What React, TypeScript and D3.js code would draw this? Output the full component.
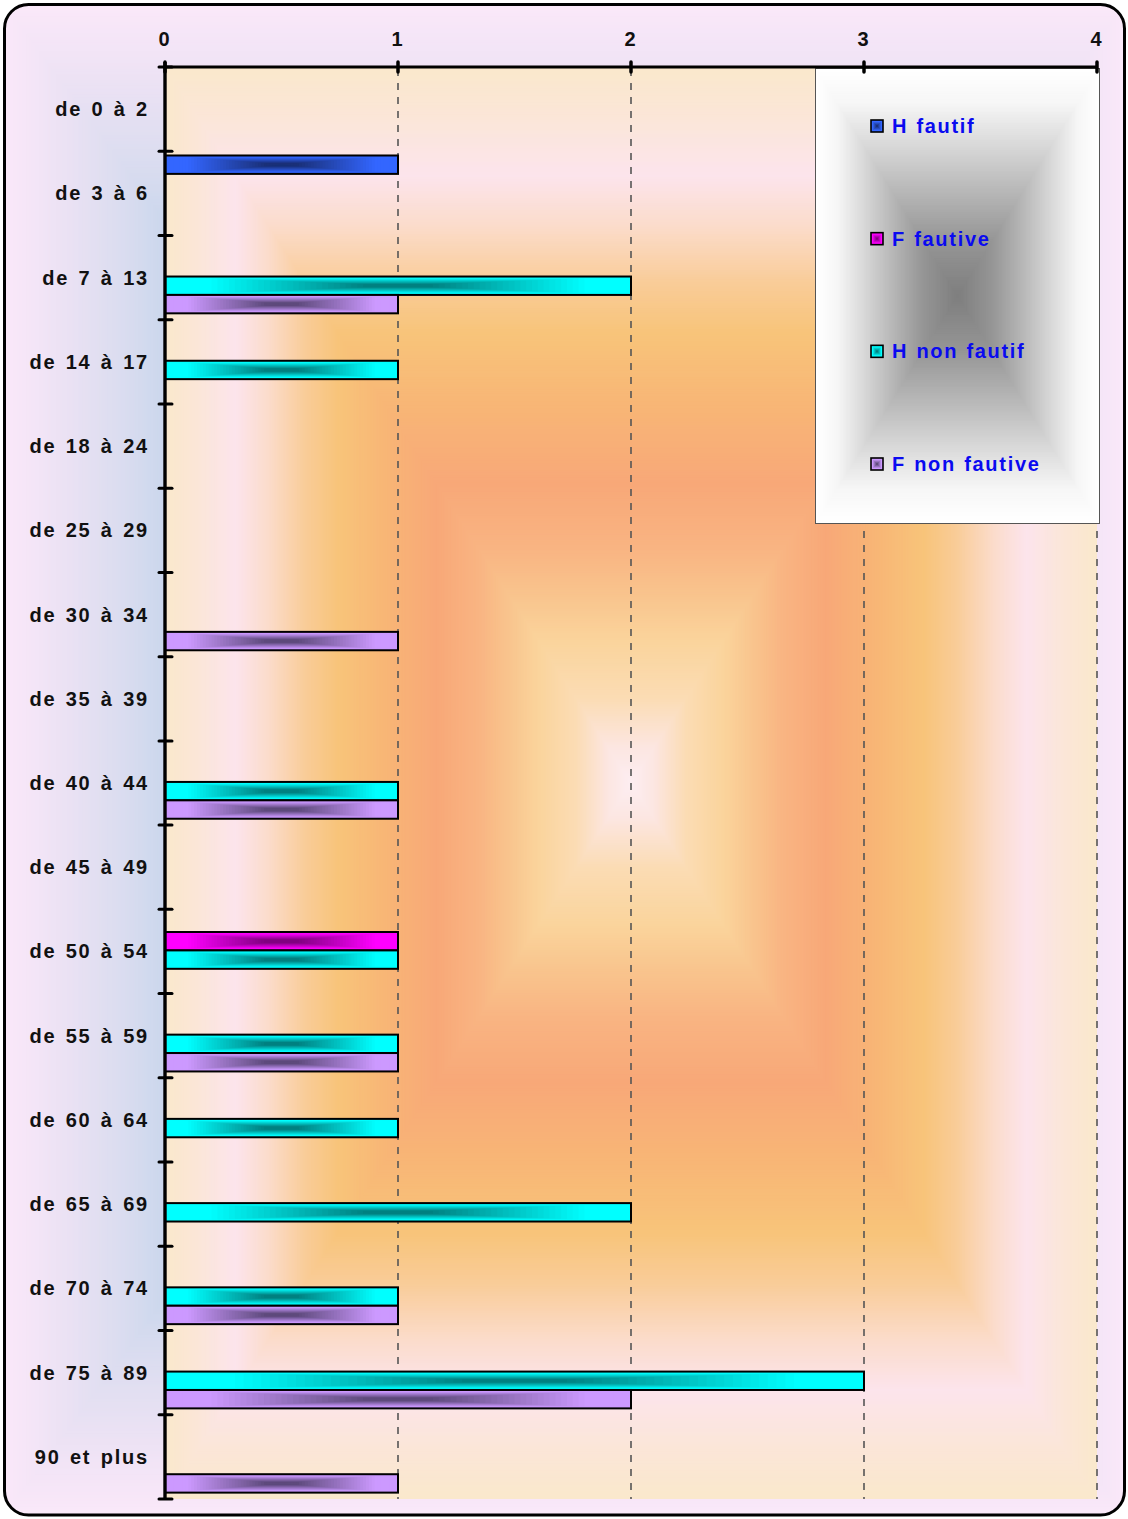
import React from "react";
import * as d3 from "d3";

const categories = [
  "de 0 à 2", "de 3 à 6", "de 7 à 13", "de 14 à 17", "de 18 à 24", "de 25 à 29",
  "de 30 à 34", "de 35 à 39", "de 40 à 44", "de 45 à 49", "de 50 à 54", "de 55 à 59",
  "de 60 à 64", "de 65 à 69", "de 70 à 74", "de 75 à 89", "90 et plus",
];
const seriesNames = ["H fautif", "F fautive", "H non fautif", "F non fautive"];
const hFautif = [0, 1, 0, 0, 0, 0, 0, 0, 0, 0, 0, 0, 0, 0, 0, 0, 0];
const fFautive = [0, 0, 0, 0, 0, 0, 0, 0, 0, 0, 1, 0, 0, 0, 0, 0, 0];
const hNonFautif = [0, 0, 2, 1, 0, 0, 0, 0, 1, 0, 1, 1, 1, 2, 1, 3, 0];
const fNonFautive = [0, 0, 1, 0, 0, 0, 1, 0, 1, 0, 0, 1, 0, 0, 1, 2, 1];
const xTicks = [0, 1, 2, 3, 4];

const seriesValues = [hFautif, fFautive, hNonFautif, fNonFautive];
const seriesEdge = ["#3366FF", "#FF00FF", "#00FFFF", "#CC99FF"];
const seriesCore = ["#1A3078", "#800080", "#008080", "#5E4A7C"];

const W = 1128;
const H = 1519;
const FONT = "'Liberation Sans', Arial, Helvetica, sans-serif";

type R = { x: number; y: number; w: number; h: number; c: string };

function rectGradient(
  x: number, y: number, w: number, h: number,
  color: (t: number) => string, steps: number
): R[] {
  const cx = x + w / 2;
  const cy = y + h / 2;
  const out: R[] = [];
  for (let i = 0; i < steps; i++) {
    const t = 1 - i / steps;
    out.push({ x: cx - (t * w) / 2, y: cy - (t * h) / 2, w: t * w, h: t * h, c: color(t) });
  }
  return out;
}

const chartBg = d3.scaleLinear<string>()
  .domain([0, 0.7, 0.8, 0.9, 0.95, 1])
  .range(["#BCCEE8", "#C8D6EC", "#DCDDF0", "#ECE2F4", "#F4E5F7", "#FAE8F9"])
  .interpolate(d3.interpolateRgb).clamp(true);

const plotBg = d3.scaleLinear<string>()
  .domain([0, 0.05, 0.12, 0.2, 0.26, 0.33, 0.42, 0.53, 0.63, 0.7, 0.78, 0.85, 0.93, 1])
  .range(["#FDEEF2", "#FCE6E2", "#FBDCB4", "#FAD49C", "#F9C58E", "#F9B482", "#F8A878",
    "#F8B676", "#F8C47A", "#F9CC98", "#FBDCCB", "#FCE4EC", "#FBE6D8", "#FAE8CC"])
  .interpolate(d3.interpolateRgb).clamp(true);

const legendBg = d3.scaleLinear<string>()
  .domain([0, 0.25, 0.5, 0.7, 0.85, 1])
  .range(["#7E7E7E", "#969696", "#BDBDBD", "#DEDEDE", "#F6F6F6", "#FFFFFF"])
  .interpolate(d3.interpolateRgb).clamp(true);

function barColor(s: number) {
  return d3.scaleLinear<string>()
    .domain([0, 0.15, 0.82, 1])
    .range([seriesCore[s], seriesCore[s], seriesEdge[s], seriesEdge[s]])
    .interpolate(d3.interpolateRgb).clamp(true);
}

export default function App() {
  const x = d3.scaleLinear().domain([0, 4]).range([165, 1097]);
  const y = d3.scaleBand<string>().domain(categories).range([67, 1499]).paddingInner(0).paddingOuter(0);
  const ys = d3.scaleBand<string>().domain(seriesNames).range([0, y.bandwidth()])
    .paddingInner(0).paddingOuter(0.289).align(0.4);
  const legendY = d3.scalePoint<string>().domain(seriesNames).range([126, 464]);

  const frame = { x: 4.5, y: 4.5, w: 1120, h: 1510.5 };
  const chartRects = rectGradient(frame.x, frame.y, frame.w, frame.h, chartBg, 260);
  const plotRects = rectGradient(x(0), y.range()[0], x(4) - x(0), y.range()[1] - y.range()[0], plotBg, 300);
  const legend = { x: 815.5, y: 68.5, w: 284, h: 455 };
  const legendRects = rectGradient(legend.x, legend.y, legend.w, legend.h, legendBg, 120);

  const bars: { s: number; i: number; x: number; y: number; w: number; h: number }[] = [];
  seriesValues.forEach((vals, s) => {
    vals.forEach((v, i) => {
      if (v > 0) {
        bars.push({
          s, i,
          x: x(0),
          y: (y(categories[i]) as number) + (ys(seriesNames[s]) as number),
          w: x(v) - x(0),
          h: ys.bandwidth(),
        });
      }
    });
  });

  const boundaries = categories.map((c) => y(c) as number).concat([y.range()[1]]);
  const labelStyle = { letterSpacing: "1.8px", wordSpacing: "2px" } as React.CSSProperties;
  const legendStyle = { letterSpacing: "1.7px", wordSpacing: "1px" } as React.CSSProperties;

  return (
    <svg width={W} height={H} viewBox={`0 0 ${W} ${H}`}
      style={{ position: "absolute", left: 0, top: 0, display: "block" }}
      fontFamily={FONT}>
      <defs>
        <clipPath id="frameClip">
          <rect x={frame.x} y={frame.y} width={frame.w} height={frame.h} rx={24} ry={24} />
        </clipPath>
      </defs>
      <g clipPath="url(#frameClip)">
        {chartRects.map((r, k) => (
          <rect key={k} x={r.x} y={r.y} width={r.w} height={r.h} fill={r.c} />
        ))}
      </g>
      <g>
        {plotRects.map((r, k) => (
          <rect key={k} x={r.x} y={r.y} width={r.w} height={r.h} fill={r.c} />
        ))}
      </g>
      <g>
        {xTicks.filter((t) => t > 0).map((t) => (
          <line key={t} x1={x(t)} x2={x(t)} y1={69} y2={y.range()[1]}
            stroke="#555" strokeWidth={1.6} strokeDasharray="7 7" />
        ))}
      </g>
      <g>
        {bars.map((b, k) => {
          const rs = rectGradient(b.x, b.y, b.w, b.h, barColor(b.s), 40);
          return (
            <g key={k}>
              {rs.map((r, j) => (
                <rect key={j} x={r.x} y={r.y} width={r.w} height={r.h} fill={r.c} />
              ))}
              <rect x={b.x} y={b.y} width={b.w} height={b.h} fill="none" stroke="#000" strokeWidth={2} />
            </g>
          );
        })}
      </g>
      <g>
        {legendRects.map((r, k) => (
          <rect key={k} x={r.x} y={r.y} width={r.w} height={r.h} fill={r.c} />
        ))}
        <rect x={legend.x} y={legend.y} width={legend.w} height={legend.h} fill="none" stroke="#555" strokeWidth={1} />
        {seriesNames.map((n, s) => {
          const cy = legendY(n) as number;
          const rs = rectGradient(871, cy - 6, 12, 12, barColor(s), 6);
          return (
            <g key={n}>
              {rs.map((r, j) => (
                <rect key={j} x={r.x} y={r.y} width={r.w} height={r.h} fill={r.c} />
              ))}
              <rect x={871} y={cy - 6} width={12} height={12} fill="none" stroke="#000" strokeWidth={1.6} />
              <text x={892} y={cy + 7} fontSize={20} fontWeight="bold" fill="#0A0AF0" style={legendStyle}>{n}</text>
            </g>
          );
        })}
      </g>
      <g>
        <line x1={x(0)} x2={x(4) + 1} y1={67} y2={67} stroke="#000" strokeWidth={3} />
        <line x1={x(0)} x2={x(0)} y1={62} y2={1500} stroke="#000" strokeWidth={3.4} />
        {xTicks.map((t) => (
          <g key={t}>
            <line x1={x(t)} x2={x(t)} y1={62} y2={72} stroke="#000" strokeWidth={3.5} strokeLinecap="round" />
            <text x={x(t) - 1} y={46} textAnchor="middle" fontSize={20} fontWeight="bold" fill="#111">{t}</text>
          </g>
        ))}
        {boundaries.map((b, k) => (
          <line key={k} x1={159} x2={172} y1={b} y2={b} stroke="#000" strokeWidth={3} strokeLinecap="round" />
        ))}
        {categories.map((c) => (
          <text key={c} x={149} y={(y(c) as number) + y.bandwidth() / 2 + 7} textAnchor="end"
            fontSize={20} fontWeight="bold" fill="#111" style={labelStyle}>{c}</text>
        ))}
      </g>
      <rect x={frame.x} y={frame.y} width={frame.w} height={frame.h} rx={24} ry={24}
        fill="none" stroke="#000" strokeWidth={3} />
    </svg>
  );
}
